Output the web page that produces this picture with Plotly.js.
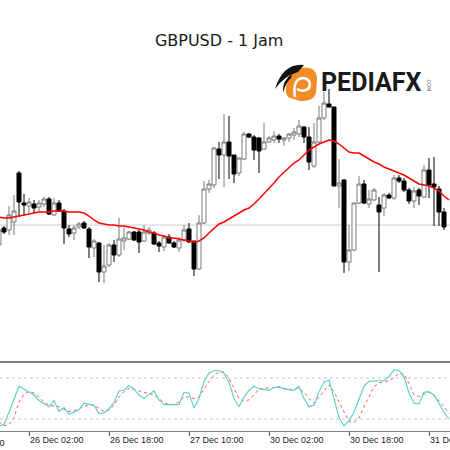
<!DOCTYPE html>
<html><head><meta charset="utf-8">
<script src="https://cdn.plot.ly/plotly-3.0.1.min.js"></script>
<style>html,body{margin:0;padding:0;background:#fff}#chart{width:450px;height:450px}</style>
</head><body><div id="chart"></div>
<script>
// ---- data (hourly candles, index 0 = 25 Dec 20:00) ----
const candleIdx = [0,1,2,3,4,5,6,7,8,9,10,11,12,13,14,15,16,17,18,19,20,21,22,23,24,25,26,27,28,29,30,31,32,33,34,35,36,37,38,39,40,41,42,43,44,45,46,47,48,49,50,51,52,53,54,55,56,57,58,59,60,61,62,63,64,65,66,67,68,69,70,71,72,73,74,75,76,77,78,79,80,81,82,83,84,85,86,87,88,89];
const openP  = [1.2985,1.3002,1.3000,1.3008,1.3057,1.3027,1.3024,1.3026,1.3023,1.3026,1.3031,1.3015,1.3027,1.3019,1.3001,1.2997,1.3003,1.3007,1.3001,1.2982,1.2987,1.2958,1.2965,1.2985,1.2975,1.2989,1.2991,1.2998,1.2998,1.2989,1.2997,1.2997,1.2987,1.2983,1.2993,1.2987,1.2982,1.2990,1.3001,1.2989,1.2961,1.3007,1.3041,1.3045,1.3081,1.3075,1.3088,1.3075,1.3057,1.3071,1.3096,1.3093,1.3092,1.3081,1.3088,1.3090,1.3094,1.3090,1.3092,1.3095,1.3096,1.3103,1.3093,1.3064,1.3088,1.3112,1.3126,1.3123,1.3044,1.3050,1.2968,1.2980,1.3027,1.3046,1.3026,1.3030,1.3025,1.3022,1.3035,1.3032,1.3052,1.3049,1.3040,1.3029,1.3040,1.3033,1.3060,1.3046,1.3041,1.3018];
const highP  = [1.3004,1.3004,1.3024,1.3035,1.3059,1.3036,1.3032,1.3030,1.3030,1.3033,1.3033,1.3032,1.3030,1.3021,1.3005,1.3005,1.3008,1.3009,1.3003,1.2991,1.2988,1.2985,1.2987,1.2990,1.3012,1.3002,1.2999,1.2999,1.3000,1.3005,1.3003,1.2999,1.2989,1.2995,1.2996,1.2989,1.2993,1.3005,1.3007,1.2989,1.3015,1.3049,1.3050,1.3083,1.3088,1.3116,1.3114,1.3075,1.3072,1.3098,1.3097,1.3095,1.3093,1.3107,1.3094,1.3099,1.3096,1.3093,1.3097,1.3102,1.3110,1.3104,1.3103,1.3107,1.3124,1.3138,1.3141,1.3123,1.3071,1.3051,1.3005,1.3027,1.3054,1.3050,1.3040,1.3042,1.3033,1.3037,1.3037,1.3055,1.3055,1.3052,1.3042,1.3043,1.3042,1.3065,1.3072,1.3073,1.3044,1.3022];
const lowP   = [1.2980,1.2996,1.2995,1.2995,1.3013,1.3014,1.3017,1.3017,1.3019,1.3023,1.3015,1.3014,1.3018,1.2986,1.2993,1.2990,1.3001,1.3001,1.2972,1.2973,1.2948,1.2947,1.2963,1.2968,1.2973,1.2980,1.2990,1.2989,1.2977,1.2988,1.2995,1.2985,1.2978,1.2979,1.2986,1.2982,1.2978,1.2988,1.2987,1.2954,1.2960,1.3006,1.3037,1.3042,1.3051,1.3043,1.3051,1.3047,1.3054,1.3070,1.3092,1.3070,1.3057,1.3080,1.3087,1.3087,1.3087,1.3084,1.3088,1.3090,1.3093,1.3087,1.3060,1.3062,1.3087,1.3110,1.3123,1.3044,1.3022,1.2957,1.2959,1.2979,1.3026,1.3026,1.3022,1.3029,1.2958,1.3014,1.3031,1.3030,1.3047,1.3038,1.3026,1.3022,1.3025,1.3032,1.3032,1.3004,1.3004,1.3000];
const closeP = [1.3000,1.2998,1.3015,1.3019,1.3028,1.3025,1.3028,1.3022,1.3027,1.3031,1.3016,1.3027,1.3019,1.3002,1.2996,1.3002,1.3006,1.3002,1.2983,1.2989,1.2958,1.2964,1.2985,1.2975,1.2991,1.2992,1.2998,1.2990,1.2988,1.2998,1.3000,1.2986,1.2984,1.2993,1.2987,1.2983,1.2990,1.3000,1.2988,1.2961,1.3007,1.3041,1.3046,1.3082,1.3075,1.3088,1.3074,1.3056,1.3072,1.3096,1.3093,1.3080,1.3079,1.3088,1.3092,1.3094,1.3091,1.3092,1.3096,1.3098,1.3104,1.3093,1.3068,1.3088,1.3112,1.3127,1.3123,1.3044,1.3047,1.2968,1.2980,1.3027,1.3046,1.3027,1.3031,1.3040,1.3018,1.3035,1.3032,1.3052,1.3049,1.3040,1.3029,1.3039,1.3034,1.3060,1.3045,1.3043,1.3018,1.3003];
const lineIdx = [0,1,2,3,4,5,6,7,8,9,10,11,12,13,14,15,16,17,18,19,20,21,22,23,24,25,26,27,28,29,30,31,32,33,34,35,36,37,38,39,40,41,42,43,44,45,46,47,48,49,50,51,52,53,54,55,56,57,58,59,60,61,62,63,64,65,66,67,68,69,70,71,72,73,74,75,76,77,78,79,80,81,82,83,84,85,86,87,88,89,90];
const maLine = [1.3013,1.3012,1.3012,1.3013,1.3014,1.3015,1.3016,1.3017,1.3018,1.3018,1.3018,1.3019,1.3019,1.3019,1.3018,1.3018,1.3018,1.3017,1.3014,1.3010,1.3007,1.3006,1.3005,1.3005,1.3004,1.3004,1.3003,1.3002,1.3001,1.3000,1.2998,1.2997,1.2995,1.2994,1.2992,1.2992,1.2991,1.2990,1.2989,1.2988,1.2989,1.2992,1.2997,1.3002,1.3006,1.3008,1.3011,1.3014,1.3017,1.3020,1.3022,1.3026,1.3031,1.3036,1.3041,1.3047,1.3053,1.3058,1.3063,1.3067,1.3070,1.3075,1.3080,1.3083,1.3086,1.3088,1.3090,1.3089,1.3086,1.3082,1.3078,1.3077,1.3077,1.3074,1.3071,1.3068,1.3066,1.3063,1.3061,1.3059,1.3057,1.3055,1.3052,1.3049,1.3046,1.3045,1.3044,1.3042,1.3039,1.3034,1.3030];
const stochK = [10,12,30,50,68,64,60,55,47,43,38,47,31,37,27,30,34,43,42,40,28,29,35,44,61,62,69,64,55,50,56,61,48,41,41,41,41,59,58,36,50,75,87,91,91,87,74,50,38,52,62,68,64,63,62,66,67,64,63,62,68,50,38,40,60,74,77,50,22,10,17,30,48,68,75,76,76,76,82,92,91,82,58,43,42,59,60,55,42,30,20];
const stochD = [16,10,12,22,45,56,60,58,52,45,40,39,38,34,31,32,35,38,41,40,35,31,33,40,52,60,65,63,61,58,57,55,50,44,41,41,45,52,52,50,52,63,75,84,89,89,80,65,50,46,48,55,64,65,65,66,67,65,63,64,65,59,50,43,52,62,70,60,45,32,16,15,21,38,53,67,73,75,76,80,87,86,72,55,53,56,59,55,47,38,28];
const bidLevel = 1.3005;
const stochLevels = [20, 80];
const tickIdx = [6,22,38,54,70,86];
const tickText = ['26 Dec 02:00','26 Dec 18:00','27 Dec 10:00','30 Dec 02:00','30 Dec 18:00','31 Dec 10:00'];
const cutTick = {idx: -10, text: '25 Dec 10:00'};

// ---- layout geometry ----
const W = 450, H = 450, MB = 19;
const plotH = H - MB;
const py = v => (plotH - v) / plotH;          // pixel row -> paper y
const px = v => v / W;                           // pixel col -> paper x
const xRange = [0.2, 90.2];

const traces = [
  {type:'candlestick', x:candleIdx, open:openP, high:highP, low:lowP, close:closeP,
   xaxis:'x', yaxis:'y', whiskerwidth:0, hoverinfo:'skip',
   increasing:{line:{color:'#7a7a7a', width:1}, fillcolor:'#ffffff'},
   decreasing:{line:{color:'#000000', width:1}, fillcolor:'#000000'}},
  {type:'scatter', mode:'lines', x:lineIdx, y:maLine, xaxis:'x', yaxis:'y',
   line:{color:'#ff0000', width:1.5}, hoverinfo:'skip'},
  {type:'scatter', mode:'lines', x:lineIdx, y:stochD, xaxis:'x', yaxis:'y2',
   line:{color:'#ff5a5a', width:1, dash:'dot'}, hoverinfo:'skip'},
  {type:'scatter', mode:'lines', x:lineIdx, y:stochK, xaxis:'x', yaxis:'y2',
   line:{color:'#5fd3cb', width:1.2}, hoverinfo:'skip'}
];

const shapes = [
  {type:'line', xref:'paper', yref:'y', x0:0, x1:1, y0:bidLevel, y1:bidLevel, line:{color:'#cccccc', width:1}, layer:'below'},
  {type:'line', xref:'paper', yref:'paper', x0:0, x1:1, y0:py(362), y1:py(362), line:{color:'#808080', width:2}}
];
stochLevels.forEach(l => shapes.push({type:'line', xref:'paper', yref:'y2', x0:0, x1:1, y0:l, y1:l, line:{color:'#c8c8c8', width:1, dash:'dot'}, layer:'below'}));

// logo icon (decoration)
shapes.push({type:'path', xref:'paper', yref:'paper', fillcolor:'#f28c28', line:{width:0},
  path:`M ${px(292)},${py(70)} Q ${px(317)},${py(62)} ${px(317)},${py(80)} L ${px(316)},${py(93)} Q ${px(313)},${py(102)} ${px(300)},${py(101)} L ${px(290)},${py(98)} Q ${px(285)},${py(96)} ${px(286)},${py(86)} Z`});
shapes.push({type:'path', xref:'paper', yref:'paper', fillcolor:'rgba(0,0,0,0)', line:{color:'#ffffff', width:2.5},
  path:`M ${px(295)},${py(97)} Q ${px(292)},${py(78)} ${px(304)},${py(78)} Q ${px(312)},${py(80)} ${px(309)},${py(88)} Q ${px(304)},${py(93)} ${px(297)},${py(89)}`});
shapes.push({type:'path', xref:'paper', yref:'paper', fillcolor:'#111111', line:{width:0},
  path:`M ${px(304)},${py(65)} Q ${px(283)},${py(63)} ${px(275)},${py(89)} Q ${px(284)},${py(76)} ${px(298)},${py(72)} Z`});
shapes.push({type:'path', xref:'paper', yref:'paper', fillcolor:'#111111', line:{width:0},
  path:`M ${px(292)},${py(74)} Q ${px(282)},${py(80)} ${px(283)},${py(93)} Q ${px(286)},${py(82)} ${px(291)},${py(78)} Z`});

const annotations = [
  {xref:'paper', yref:'paper', x:px(319), y:py(83), xanchor:'left', yanchor:'middle', showarrow:false,
   text:'<b>PEDIAFX</b>', font:{family:'Roboto, Liberation Sans, sans-serif', size:25, color:'#1a1a1a'}},
  {xref:'paper', yref:'paper', x:px(429), y:py(84), xanchor:'center', yanchor:'middle', showarrow:false,
   text:'.COM', textangle:90, font:{family:'Liberation Sans, sans-serif', size:5, color:'#555555'}},
  {xref:'paper', yref:'paper', x:(cutTick.idx - xRange[0])/(xRange[1]-xRange[0]), y:0, yshift:-5, xanchor:'left', yanchor:'top', showarrow:false,
   text:cutTick.text, font:{family:'Liberation Sans, sans-serif', size:9, color:'#222'}}
];

const layout = {
  width:W, height:H, margin:{l:0, r:0, t:0, b:MB, pad:0},
  paper_bgcolor:'#ffffff', plot_bgcolor:'#ffffff', showlegend:false,
  title:{text:'GBPUSD - 1 Jam', x:0.487, xanchor:'center', y:1-40/H, yanchor:'middle', yref:'container',
         font:{family:'DejaVu Sans, sans-serif', size:16, color:'#1a1a1a'}},
  boxgap:0.2, boxgroupgap:0,
  xaxis:{anchor:'y2', range:xRange, rangeslider:{visible:false}, showgrid:false, zeroline:false,
         showline:true, linecolor:'#808080', linewidth:1,
         tickmode:'array', tickvals:tickIdx, ticktext:tickText, ticks:'outside', ticklen:4, tickcolor:'#555',
         ticklabelposition:'outside right', ticklabeloverflow:'allow',
         tickfont:{family:'Liberation Sans, sans-serif', size:9, color:'#222'}},
  yaxis:{domain:[py(358), 1], range:[1.2872, 1.3230], showgrid:false, zeroline:false, showticklabels:false, showline:false},
  yaxis2:{domain:[0, py(364)], range:[2.4, 100.5], showgrid:false, zeroline:false, showticklabels:false, showline:false},
  shapes:shapes, annotations:annotations
};

Plotly.newPlot('chart', traces, layout, {staticPlot:true, displayModeBar:false});
</script></body></html>
